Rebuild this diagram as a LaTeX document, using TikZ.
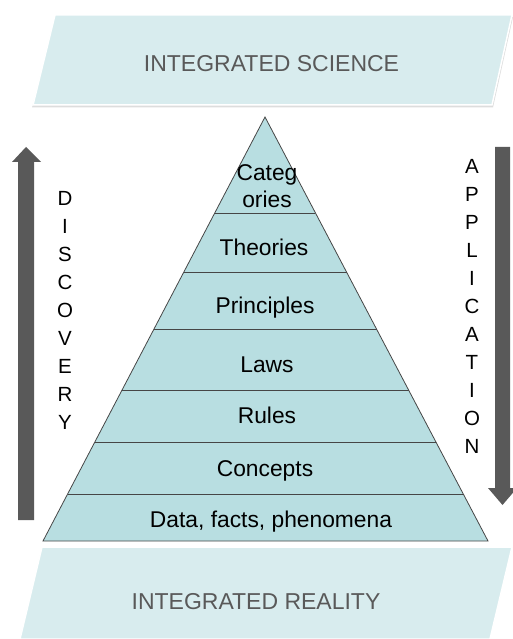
\documentclass[tikz,border=0pt]{standalone}
\usepackage{fontspec}
\setmainfont{Liberation Sans}
\usetikzlibrary{calc}
\definecolor{bandcyan}{RGB}{216, 236, 238}
\definecolor{pyramidcyan}{RGB}{184, 222, 225}
\definecolor{edgegray}{RGB}{70, 70, 70}
\definecolor{arrowgray}{RGB}{89, 89, 89}
\definecolor{captiongray}{RGB}{89, 89, 89}

\tikzset{
  band/.style={fill=bandcyan, draw=white, line width=1.5pt},
  bandtext/.style={text=captiongray, font=\fontsize{23}{27}\selectfont, anchor=base, inner sep=0pt},
  layertext/.style={font=\fontsize{22.8}{28}\selectfont, anchor=base, inner sep=0pt},
  letter/.style={font=\fontsize{20.5}{24}\selectfont, anchor=base, inner sep=0pt},
  layerline/.style={draw=edgegray, line width=0.8pt}
}

\begin{document}
\begin{tikzpicture}[x=1pt, y=-1pt]
  \useasboundingbox (0,0) rectangle (513,639);

  % Band: integrated science
  \fill[gray!45, opacity=0.6] (56,17) -- (513,17) -- (493,107.5) -- (32,107.5) -- cycle;
  \draw[band] (55,15) -- (512,15) -- (492,105) -- (33,105) -- cycle;
  \node[bandtext] (science) at (271.5,72) {INTEGRATED SCIENCE};

  % Band: integrated reality
  \draw[band] (42,547) -- (512,547) -- (490,639) -- (20,639) -- cycle;
  \node[bandtext] (reality) at (256,609) {INTEGRATED REALITY};

  % Pyramid
  \coordinate (apex) at (265,117);
  \coordinate (baseL) at (43,541);
  \coordinate (baseR) at (488,541);
  \draw[layerline, fill=pyramidcyan] (apex) -- (baseR) -- (baseL) -- cycle;
  \foreach \t in {0.2264, 0.3656, 0.5, 0.6439, 0.7665, 0.8892}
    \draw[layerline] ($(apex)!\t!(baseL)$) -- ($(apex)!\t!(baseR)$);

  % Layer labels
  \node[layertext] (categ) at (267,180) {Categ};
  \node[layertext] (ories) at (267,207) {ories};
  \node[layertext] (theories) at (264,255) {Theories};
  \node[layertext] (principles) at (265,313) {Principles};
  \node[layertext] (laws) at (267,372) {Laws};
  \node[layertext] (rules) at (267,423) {Rules};
  \node[layertext] (concepts) at (265,476) {Concepts};
  \node[layertext] (data) at (271,527) {Data, facts, phenomena};

  % Discovery arrow, pointing up
  \fill[arrowgray] (18,520) -- (18,162) -- (12,162) -- (26,147) -- (41,162)
    -- (34,162) -- (34,520) -- cycle;
  \foreach \ch [count=\i from 0] in {D,I,S,C,O,V,E,R,Y}
    \node[letter] (d\i) at (65,205+28.1*\i) {\ch};

  % Application arrow, pointing down
  \fill[arrowgray] (495,147) -- (510,147) -- (510,488) -- (517,488) -- (502.5,505)
    -- (488,488) -- (495,488) -- cycle;
  \foreach \ch [count=\i from 0] in {A,P,P,L,I,C,A,T,I,O,N}
    \node[letter] (a\i) at (472,173+28*\i) {\ch};
\end{tikzpicture}
\end{document}
